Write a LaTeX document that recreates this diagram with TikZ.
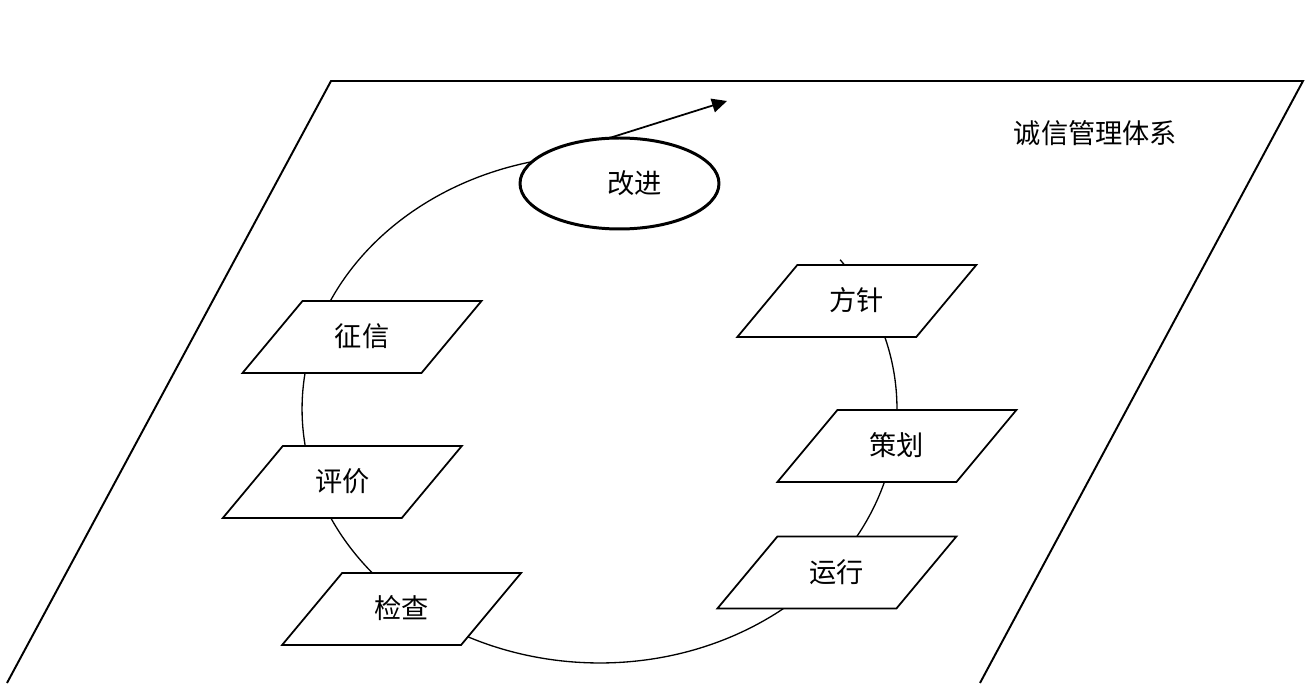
\documentclass[tikz,border=0pt]{standalone}
\usepackage{fontspec}
\newfontfamily\cjk{Noto Sans CJK SC}
\usepackage{tikz}
\usetikzlibrary{shapes.geometric, arrows.meta}
\tikzstyle{stage} = [trapezium, trapezium left angle=50.2, trapezium right angle=129.8, trapezium stretches body, minimum width=4.78cm, text height=0.92cm, text depth=0.52cm, inner sep=0pt, text centered, draw=black, line width=1pt, fill=white, font=\cjk\fontsize{15.5}{18}\selectfont]
\tikzstyle{improve} = [ellipse, minimum width=3.98cm, minimum height=1.82cm, inner sep=0pt, draw=black, line width=1.7pt, fill=white, font=\cjk\fontsize{15.5}{18}\selectfont]
\tikzstyle{plane} = [line width=1.1pt]
\tikzstyle{loop} = [line width=0.75pt]
\tikzstyle{arrow} = [line width=1pt, -{Triangle[length=0.3cm, width=0.28cm]}]

\begin{document}
\begin{tikzpicture}[x=0.02cm, y=0.02cm]
\useasboundingbox (0,0) rectangle (1308,683);
% management plane
\draw [plane] (7,0) -- (331,602) -- (1303,602) -- (980,0);
\node (system) at (1095.5,550) [font=\cjk\fontsize{15.5}{18}\selectfont] {诚信管理体系};
% cycle
\coordinate (loopstart) at ([shift={(599.5,274)}]36:5.95cm and 5.08cm);
\coordinate (loopend) at ([shift={(599.5,274)}]102:5.95cm and 5.08cm);
\coordinate (tip) at (727,582);
\draw [loop] (loopstart) arc [start angle=36, end angle=-258, x radius=5.95cm, y radius=5.08cm];
\draw [arrow] (loopend) -- (tip);
\node (gaijin) at (619.5,499.5) [improve] {\hspace*{0.6cm}改进};
\node (fangzhen) at (856.8,382) [stage] {方针};
\node (cehua) at (896.9,237) [stage] {策划};
\node (yunxing) at (836.9,110.5) [stage] {运行};
\node (jiancha) at (401.6,74) [stage] {检查};
\node (pingjia) at (342.3,201) [stage] {评价};
\node (zhengxin) at (362,346) [stage] {征信};
\end{tikzpicture}
\end{document}
